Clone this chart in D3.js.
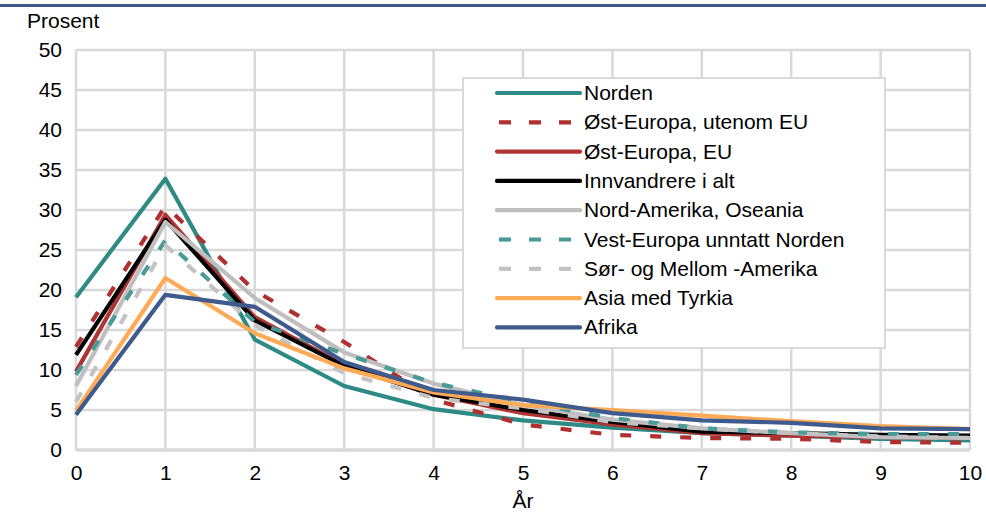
<!DOCTYPE html>
<html>
<head>
<meta charset="utf-8">
<script src="https://cdn.jsdelivr.net/npm/d3@7"></script>
<style>
  body { margin: 0; background: #fff; }
  text { font-family: "Liberation Sans", Arial, sans-serif; fill: #000; }
</style>
</head>
<body>
<svg id="chart" width="986" height="513"></svg>
<script>
const years = [0, 1, 2, 3, 4, 5, 6, 7, 8, 9, 10];
const yTicks = [0, 5, 10, 15, 20, 25, 30, 35, 40, 45, 50];
const seriesNames = [
  "Norden",
  "Øst-Europa, utenom EU",
  "Øst-Europa, EU",
  "Innvandrere i alt",
  "Nord-Amerika, Oseania",
  "Vest-Europa unntatt Norden",
  "Sør- og Mellom -Amerika",
  "Asia med Tyrkia",
  "Afrika"
];
const norden        = [19.1, 33.9, 13.8, 8.0, 5.1, 3.7, 2.8, 2.1, 1.8, 1.4, 1.2];
const ostUtenomEU   = [12.9, 30.5, 19.9, 13.5, 6.3, 3.2, 1.9, 1.5, 1.4, 1.0, 0.9];
const ostEU         = [9.8, 29.4, 16.6, 10.6, 6.9, 4.6, 3.2, 2.1, 1.8, 1.6, 1.5];
const innvandrere   = [11.9, 28.8, 16.2, 10.5, 6.9, 5.0, 3.5, 2.3, 2.1, 1.9, 1.8];
const nordAmerika   = [8.0, 28.5, 19.0, 12.2, 8.3, 5.6, 3.8, 2.7, 2.1, 1.6, 1.5];
const vestEuropa    = [9.4, 26.2, 16.0, 12.0, 8.4, 6.0, 4.0, 2.7, 2.2, 2.0, 2.0];
const sorMellom     = [6.0, 25.6, 15.6, 9.6, 6.5, 5.2, 3.5, 2.7, 2.1, 1.7, 1.5];
const asia          = [4.9, 21.5, 14.6, 10.2, 7.2, 5.6, 5.0, 4.3, 3.6, 3.0, 2.6];
const afrika        = [4.4, 19.4, 17.9, 11.0, 7.5, 6.3, 4.6, 3.7, 3.4, 2.7, 2.6];

const seriesValues = [norden, ostUtenomEU, ostEU, innvandrere, nordAmerika, vestEuropa, sorMellom, asia, afrika];
const colors = ["#2e8a84", "#b0302f", "#b03434", "#000000", "#bfbfbf", "#4a9a96", "#c3c3c3", "#ffaa57", "#3f5a8c"];
const dashed = [false, true, false, false, false, true, true, false, false];

const FS = "21px";
const svg = d3.select("#chart");
const x = d3.scaleLinear().domain([0, 10]).range([76, 970]);
const y = d3.scaleLinear().domain([0, 50]).range([450, 50]);

// top rule
svg.append("rect").attr("x", 0).attr("y", 4).attr("width", 986).attr("height", 3).attr("fill", "#41598b");

// grid
const grid = svg.append("g");
grid.selectAll(".hg").data(yTicks).enter().append("line")
  .attr("x1", x(0)).attr("x2", x(10))
  .attr("y1", d => y(d)).attr("y2", d => y(d))
  .attr("stroke", "#d9d9d9").attr("stroke-width", d => d === 0 ? 3.5 : 2.5);
grid.selectAll(".vg").data(years).enter().append("line")
  .attr("y1", y(0)).attr("y2", y(50))
  .attr("x1", d => x(d)).attr("x2", d => x(d))
  .attr("stroke", "#d9d9d9").attr("stroke-width", 2.5);

// axes labels
const yAxis = d3.axisLeft(y).tickValues(yTicks).tickSize(0).tickPadding(14);
const gy = svg.append("g").attr("transform", `translate(${x(0)},0)`).call(yAxis);
gy.select(".domain").remove();
gy.selectAll("text").style("font-size", FS).style("font-family", "Liberation Sans, Arial, sans-serif").attr("fill", "#000");

const xAxis = d3.axisBottom(x).tickValues(years).tickSize(0).tickPadding(15).tickFormat(d3.format("d"));
const gx = svg.append("g").attr("transform", `translate(0,${y(0)})`).call(xAxis);
gx.select(".domain").remove();
gx.selectAll("text").style("font-size", FS).style("font-family", "Liberation Sans, Arial, sans-serif").attr("fill", "#000");

svg.append("text").attr("x", 27).attr("y", 28).style("font-size", FS).text("Prosent");
svg.append("text").attr("x", x(5)).attr("y", 508).attr("text-anchor", "middle").style("font-size", FS).text("År");

// lines
const line = d3.line().x((d, i) => x(years[i])).y(d => y(d));
seriesValues.forEach((vals, i) => {
  svg.append("path").datum(vals)
    .attr("d", line)
    .attr("fill", "none")
    .attr("stroke", colors[i])
    .attr("stroke-width", 4.2)
    .attr("stroke-linejoin", "round")
    .attr("stroke-dasharray", dashed[i] ? "11,19" : null);
});

// legend
const lg = svg.append("g");
lg.append("rect").attr("x", 463).attr("y", 78).attr("width", 422).attr("height", 270)
  .attr("fill", "#fff").attr("stroke", "#d9d9d9").attr("stroke-width", 2);
seriesNames.forEach((name, i) => {
  const cy = 93 + i * 29.3;
  lg.append("line").attr("x1", 497).attr("x2", 580).attr("y1", cy).attr("y2", cy)
    .attr("stroke", colors[i]).attr("stroke-width", 4.2)
    .attr("stroke-linecap", dashed[i] ? "butt" : "round")
    .attr("stroke-dasharray", dashed[i] ? "12,18" : null)
    .attr("stroke-dashoffset", dashed[i] ? -2 : null);
  lg.append("text").attr("x", 584).attr("y", cy + 7).style("font-size", FS).text(name);
});
</script>
</body>
</html>
